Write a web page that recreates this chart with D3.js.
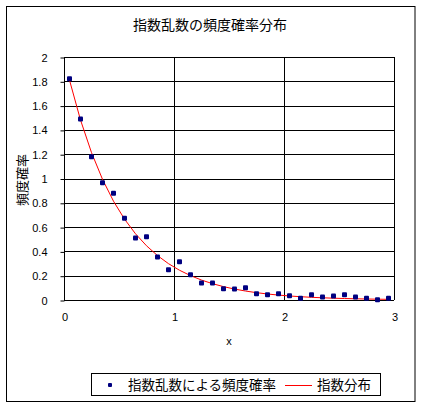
<!DOCTYPE html>
<html><head><meta charset="utf-8">
<script src="https://cdn.jsdelivr.net/npm/d3@7"></script>
<style>
body{margin:0;background:#fff;}
svg text{font-family:"Liberation Sans",Arial,"Noto Sans CJK JP",sans-serif;}
.jp{font-family:"Noto Sans CJK JP",sans-serif;}
</style></head>
<body><div id="chart"></div>
<script>
const xValues = [0.05,0.15,0.25,0.35,0.45,0.55,0.65,0.75,0.85,0.95,1.05,1.15,1.25,1.35,1.45,1.55,1.65,1.75,1.85,1.95,2.05,2.15,2.25,2.35,2.45,2.55,2.65,2.75,2.85,2.95];
const freqValues = [1.82,1.49,1.18,0.965,0.878,0.672,0.51,0.521,0.354,0.25,0.315,0.208,0.14,0.14,0.093,0.09,0.10,0.052,0.044,0.052,0.036,0.014,0.044,0.025,0.033,0.044,0.025,0.014,0.003,0.014];
const expValues = [1.8097,1.4816,1.2131,0.9932,0.8131,0.6657,0.5451,0.4463,0.3654,0.2991,0.2449,0.2005,0.1642,0.1344,0.1100,0.0901,0.0738,0.0604,0.0494,0.0405,0.0331,0.0271,0.0222,0.0182,0.0149,0.0122,0.0100,0.0082,0.0067,0.0055];
const yTicks = [0,0.2,0.4,0.6,0.8,1,1.2,1.4,1.6,1.8,2];
const xTicks = [0,1,2,3];
const title = "指数乱数の頻度確率分布";
const xTitle = "x";
const yTitle = "頻度確率";
const seriesNames = ["指数乱数による頻度確率","指数分布"];

const W=424,H=406;
const svg=d3.select("#chart").append("svg").attr("width",W).attr("height",H);
svg.append("rect").attr("x",0).attr("y",0).attr("width",W).attr("height",H).attr("fill","#fff");
svg.append("rect").attr("x",6.5).attr("y",6.5).attr("width",408.5).attr("height",395).attr("fill","none").attr("stroke","#000").attr("stroke-width",1);

const L=64,R=394,T=57,B=300;
const x=d3.scaleLinear().domain([0,3]).range([L,R]);
const y=d3.scaleLinear().domain([0,2]).range([B,T]);

// gridlines
svg.append("g").selectAll("line.h").data(yTicks).join("line")
  .attr("x1",L).attr("x2",R).attr("y1",d=>Math.round(y(d))+0.5).attr("y2",d=>Math.round(y(d))+0.5)
  .attr("stroke","#000").attr("stroke-width",1);
svg.append("g").selectAll("line.v").data(xTicks).join("line")
  .attr("y1",T).attr("y2",B).attr("x1",d=>Math.round(x(d))+0.5).attr("x2",d=>Math.round(x(d))+0.5)
  .attr("stroke","#000").attr("stroke-width",1);

// y axis
const ya=svg.append("g").attr("transform",`translate(${L+0.5},0.5)`)
  .call(d3.axisLeft(y).tickValues(yTicks).tickSize(4).tickPadding(13).tickFormat(d3.format("")));
ya.select(".domain").remove();
ya.selectAll("line").attr("stroke","#000");
ya.selectAll("text").attr("font-size","11px").attr("fill","#000");

// x axis
const xa=svg.append("g").attr("transform",`translate(0.5,${B+0.5})`)
  .call(d3.axisBottom(x).tickValues(xTicks).tickSize(0).tickPadding(13).tickFormat(d3.format("")));
xa.select(".domain").remove();
xa.selectAll("text").attr("font-size","11px").attr("fill","#000");

// line
svg.append("path").datum(xValues.map((v,i)=>[v,expValues[i]]))
  .attr("d",d3.line().x(d=>x(d[0])).y(d=>y(d[1])))
  .attr("fill","none").attr("stroke","#ff0000").attr("stroke-width",1);

// points
svg.append("g").selectAll("rect").data(xValues.map((v,i)=>[v,freqValues[i]])).join("rect")
  .attr("x",d=>x(d[0])-2.5).attr("y",d=>y(d[1])-2.5).attr("width",5).attr("height",5)
  .attr("rx",1).attr("fill","#000080");

// titles
svg.append("text").attr("class","jp").attr("x",210).attr("y",30).attr("text-anchor","middle")
  .attr("font-size","14px").text(title);
svg.append("text").attr("x",229).attr("y",345).attr("text-anchor","middle").attr("font-size","11px").text(xTitle);
svg.append("text").attr("class","jp").attr("transform","translate(27,180) rotate(-90)").attr("text-anchor","middle")
  .attr("font-size","13px").text(yTitle);

// legend
svg.append("rect").attr("x",91.5).attr("y",373.5).attr("width",289).attr("height",22).attr("fill","#fff").attr("stroke","#000");
svg.append("rect").attr("x",108).attr("y",383).attr("width",4).attr("height",4).attr("rx",1).attr("fill","#000080");
svg.append("text").attr("class","jp").attr("x",128).attr("y",390).attr("font-size","13.5px").text(seriesNames[0]);
svg.append("line").attr("x1",285).attr("x2",312).attr("y1",385.5).attr("y2",385.5).attr("stroke","#ff0000");
svg.append("text").attr("class","jp").attr("x",317).attr("y",390).attr("font-size","13.5px").text(seriesNames[1]);
</script></body></html>
